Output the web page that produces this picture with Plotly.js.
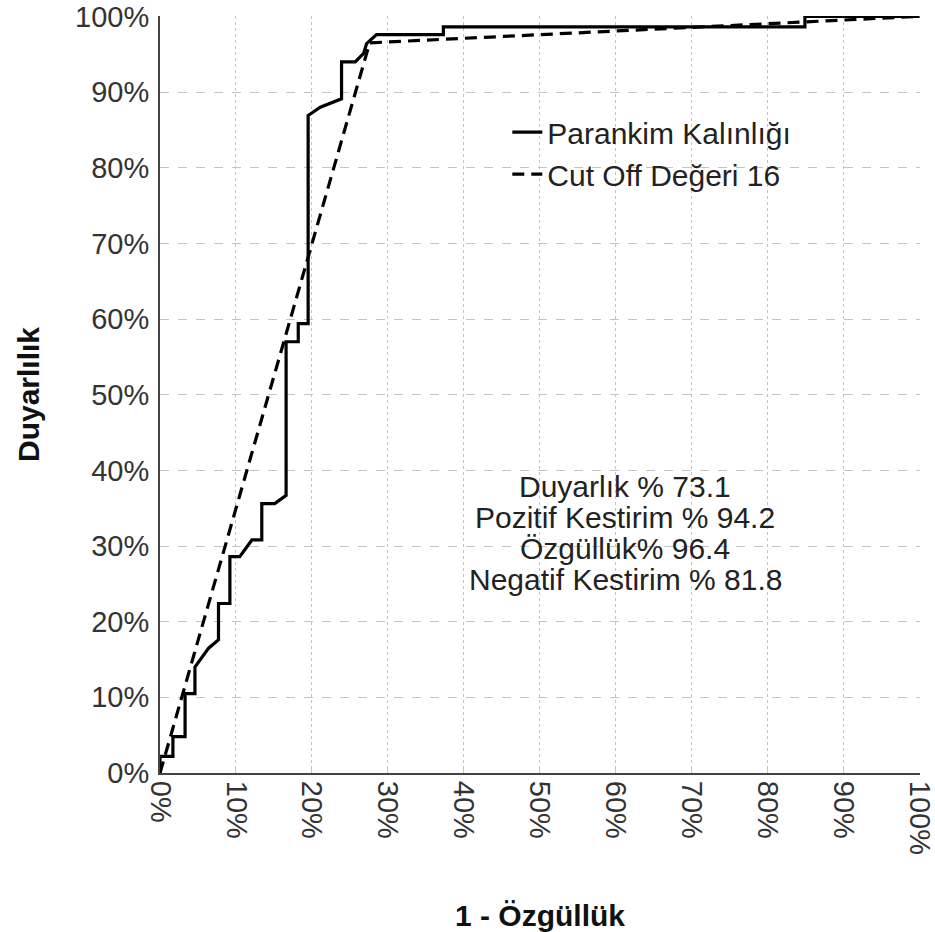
<!DOCTYPE html>
<html>
<head>
<meta charset="utf-8">
<script src="https://cdn.plot.ly/plotly-3.0.1.min.js"></script>
<style>html,body{margin:0;padding:0;background:#fff;}#chart{width:935px;height:932px;}</style>
</head>
<body>
<div id="chart"></div>
<script>
// Solid ROC curve: Parankim Kalınlığı (1 - Özgüllük %, Duyarlılık %)
const rocX = [0, 0, 1.7, 1.7, 3.3, 3.3, 4.6, 4.6, 6.4, 7.7, 7.7, 9.2, 9.2, 10.5, 12.1, 13.4, 13.4, 15.1, 16.6, 16.6, 18.2, 18.2, 19.5, 19.5, 21.1, 23.9, 23.9, 25.7, 26.8, 27.2, 28.5, 37.3, 37.3, 84.9, 84.9, 100];
const rocY = [0, 2.2, 2.2, 4.8, 4.8, 10.5, 10.5, 14.0, 16.5, 17.6, 22.4, 22.4, 28.6, 28.6, 30.8, 30.8, 35.6, 35.6, 36.7, 57.0, 57.0, 59.4, 59.4, 86.9, 88.0, 89.1, 94.0, 94.0, 95.1, 96.4, 97.6, 97.6, 98.6, 98.6, 100, 100];
// Dashed curve: Cut Off Değeri 16
const cutX = [0, 27.6, 100];
const cutY = [0, 96.5, 100];
const seriesNames = ["Parankim Kalınlığı", "Cut Off Değeri 16"];
const tickVals = [0, 10, 20, 30, 40, 50, 60, 70, 80, 90, 100];
const tickText = ["0%", "10%", "20%", "30%", "40%", "50%", "60%", "70%", "80%", "90%", "100%"];
const statLines = ["Duyarlık % 73.1", "Pozitif Kestirim % 94.2", "Özgüllük% 96.4", "Negatif Kestirim % 81.8"];

const FONT = "Liberation Sans, Arial, sans-serif";
const traces = [
  {x: rocX, y: rocY, type: "scatter", mode: "lines", name: seriesNames[0],
   line: {color: "#000", width: 3.2, shape: "linear"}, cliponaxis: false},
  {x: cutX, y: cutY, type: "scatter", mode: "lines", name: seriesNames[1],
   line: {color: "#000", width: 3.2, dash: "12px,7px"}, cliponaxis: false}
];
const statY = [0.378, 0.338, 0.296, 0.255];
const annotations = statLines.map((t, i) => ({
  text: t, xref: "paper", yref: "paper", x: 0.612, y: statY[i],
  xanchor: "center", yanchor: "middle", showarrow: false,
  font: {family: FONT, size: 30, color: "#222"}
}));
const layout = {
  width: 935, height: 932,
  margin: {l: 160, r: 15, t: 16, b: 159},
  paper_bgcolor: "#fff", plot_bgcolor: "#fff",
  showlegend: true,
  legend: {x: 0.457, y: 0.881, xanchor: "left", yanchor: "top",
           bgcolor: "rgba(0,0,0,0)", font: {family: FONT, size: 30, color: "#222"},
           tracegroupgap: 0},
  xaxis: {range: [0, 100.05], tickvals: tickVals, ticktext: tickText, tickangle: 90,
          ticklabeloverflow: "allow",
          showgrid: true, gridcolor: "#c4c4c4", griddash: "dot", gridwidth: 1,
          zeroline: false, showline: true, linecolor: "#444", linewidth: 2,
          ticks: "inside", ticklen: 4, tickcolor: "#c4c4c4",
          tickfont: {family: FONT, size: 29, color: "#333"},
          title: {text: "1 - Özgüllük", font: {family: FONT, size: 30, color: "#111", weight: "bold"}, standoff: 55},
          fixedrange: true},
  yaxis: {range: [0, 100.05], tickvals: tickVals, ticktext: tickText,
          showgrid: true, gridcolor: "#c4c4c4", griddash: "dash", gridwidth: 1,
          zeroline: false, showline: true, linecolor: "#444", linewidth: 2,
          ticks: "", ticklabelstandoff: 3,
          tickfont: {family: FONT, size: 29, color: "#333"},
          title: {text: "Duyarlılık", font: {family: FONT, size: 30, color: "#111", weight: "bold"}, standoff: 27},
          fixedrange: true},
  annotations: annotations
};
Plotly.newPlot("chart", traces, layout, {displayModeBar: false, staticPlot: true});
</script>
</body>
</html>
